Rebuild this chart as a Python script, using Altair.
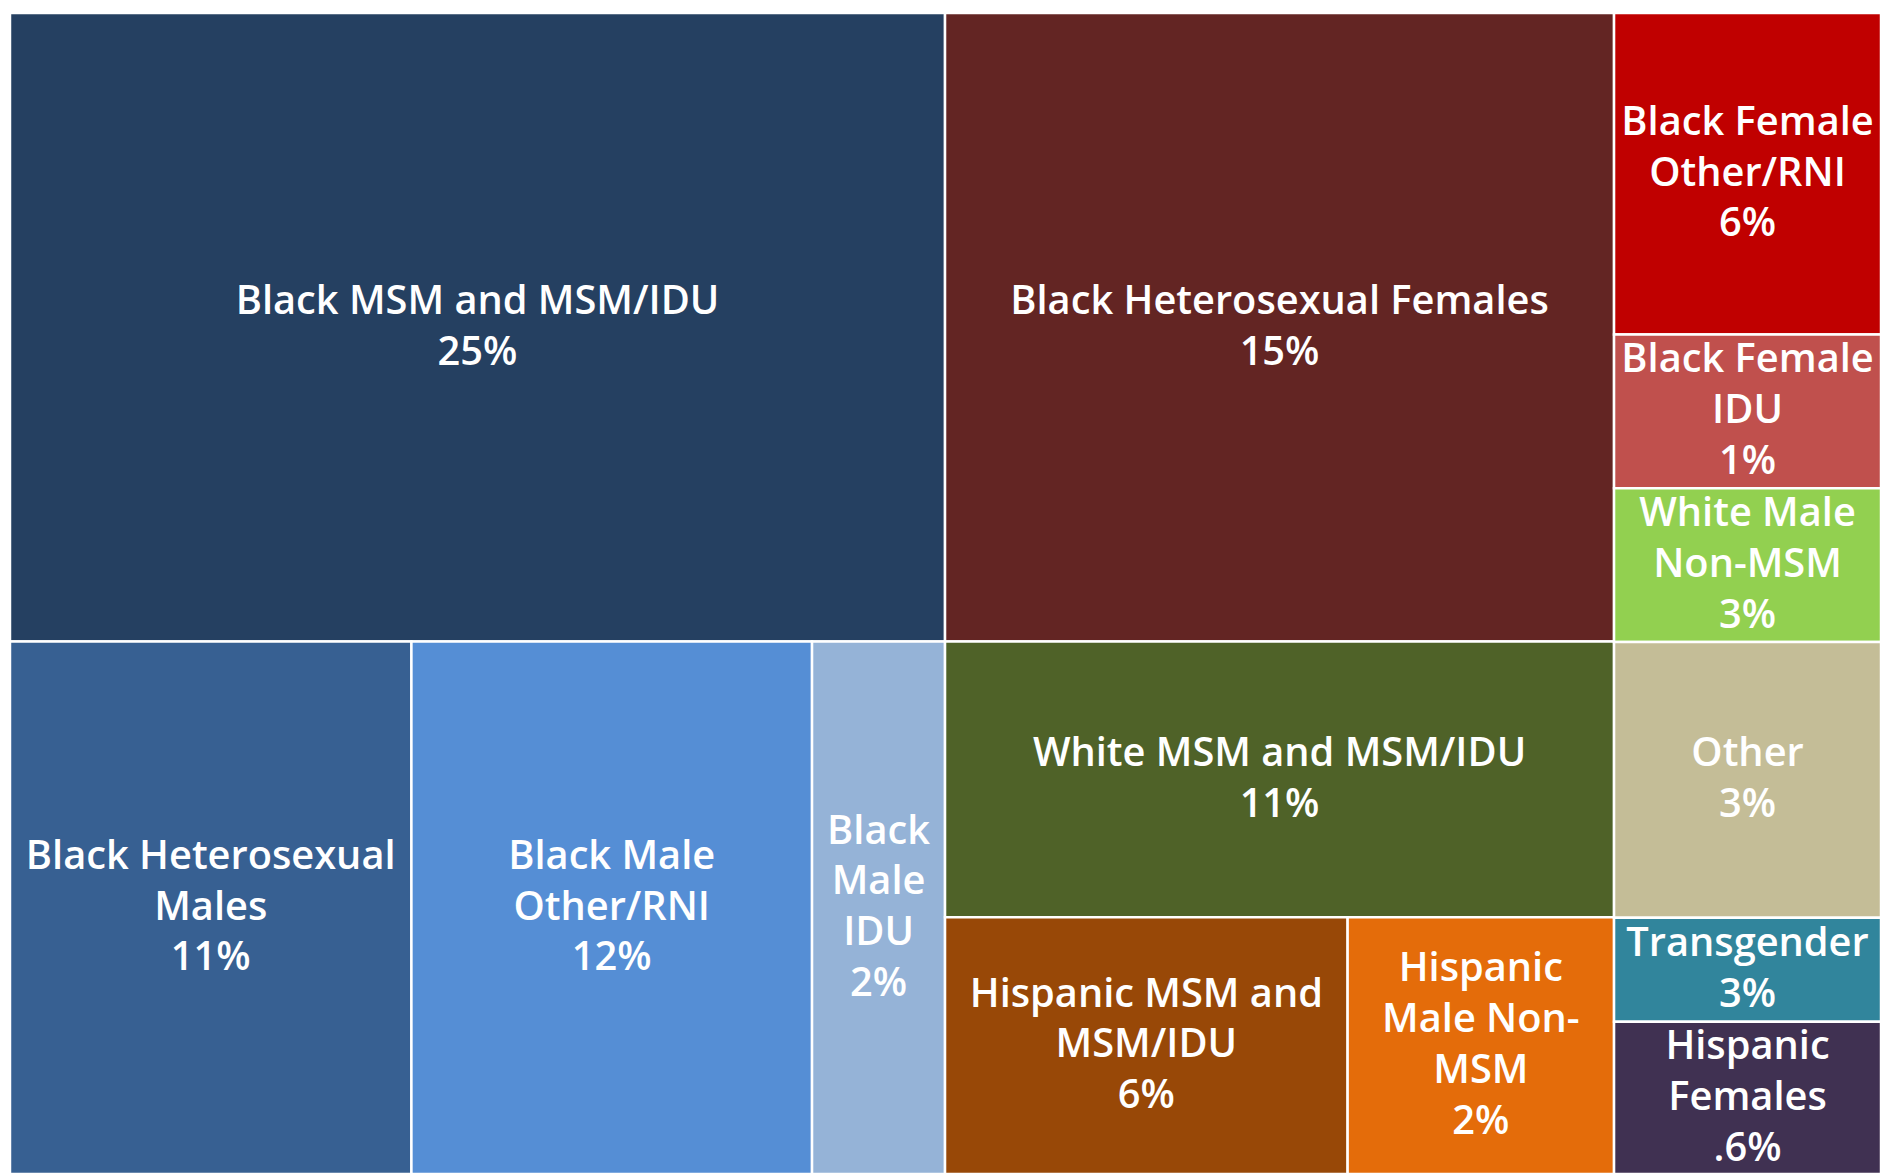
import altair as alt
import pandas as pd

# Cell names (order used by the layout tree below)
names = [
    "Black MSM and MSM/IDU",
    "Black Heterosexual Males",
    "Black Male Other/RNI",
    "Black Male IDU",
    "Black Heterosexual Females",
    "White MSM and MSM/IDU",
    "Hispanic MSM and MSM/IDU",
    "Hispanic Male Non-MSM",
    "Black Female Other/RNI",
    "Black Female IDU",
    "White Male Non-MSM",
    "Other",
    "Transgender",
    "Hispanic Females",
]

# Relative area of each tile
area_weights = [27.06, 9.84, 9.82, 3.26, 19.36, 8.49, 4.76, 3.15,
                3.95, 1.89, 1.89, 3.39, 1.28, 1.87]

# Displayed labels (one list of lines per tile)
labels = [
    ["Black MSM and MSM/IDU", "25%"],
    ["Black Heterosexual", "Males", "11%"],
    ["Black Male", "Other/RNI", "12%"],
    ["Black", "Male", "IDU", "2%"],
    ["Black Heterosexual Females", "15%"],
    ["White MSM and MSM/IDU", "11%"],
    ["Hispanic MSM and", "MSM/IDU", "6%"],
    ["Hispanic", "Male Non-", "MSM", "2%"],
    ["Black Female", "Other/RNI", "6%"],
    ["Black Female", "IDU", "1%"],
    ["White Male", "Non-MSM", "3%"],
    ["Other", "3%"],
    ["Transgender", "3%"],
    ["Hispanic", "Females", ".6%"],
]

colors = ["#254061", "#376092", "#558ED5", "#95B3D7", "#632523", "#4F6228",
          "#984807", "#E46C0A", "#C00000", "#C0504D", "#92D050", "#C4BD97",
          "#31859C", "#403152"]

# Treemap structure: "h" splits horizontally (side by side), "v" vertically (stacked)
layout_tree = ("h", [
    ("v", [0, ("h", [1, 2, 3])]),
    ("v", [4, 5, ("h", [6, 7])]),
    ("v", [8, 9, 10, 11, 12, 13]),
])

W, H = 1881, 1167
LINE_PX = 51


def total(node):
    if isinstance(node, int):
        return area_weights[node]
    return sum(total(c) for c in node[1])


def place(node, x0, x1, y0, y1, out):
    if isinstance(node, int):
        out[node] = (x0, x1, y0, y1)
        return
    direction, children = node
    s = total(node)
    pos = x0 if direction == "h" else y0
    for c in children:
        frac = total(c) / s
        if direction == "h":
            step = (x1 - x0) * frac
            place(c, pos, pos + step, y0, y1, out)
        else:
            step = (y1 - y0) * frac
            place(c, x0, x1, pos, pos + step, out)
        pos += step


boxes = {}
place(layout_tree, 0.0, 100.0, 0.0, 100.0, boxes)

rows = []
text_rows = []
lh = LINE_PX / H * 100.0
for i, n in enumerate(names):
    x0, x1, y0, y1 = boxes[i]
    rows.append({"name": n, "x0": x0, "x1": x1, "y0": y0, "y1": y1})
    cx, cy = (x0 + x1) / 2, (y0 + y1) / 2
    k = len(labels[i])
    for j, line in enumerate(labels[i]):
        text_rows.append({"name": n, "line": line, "cx": cx,
                          "cy": cy + (j - (k - 1) / 2) * lh})
df = pd.DataFrame(rows)
tdf = pd.DataFrame(text_rows)

xs = alt.Scale(domain=[0, 100], nice=False, zero=False)
ys = alt.Scale(domain=[0, 100], nice=False, zero=False, reverse=True)

rects = alt.Chart(df).mark_rect(stroke="white", strokeWidth=2.5).encode(
    x=alt.X("x0:Q", scale=xs, axis=None),
    x2="x1:Q",
    y=alt.Y("y0:Q", scale=ys, axis=None),
    y2="y1:Q",
    color=alt.Color("name:N", scale=alt.Scale(domain=names, range=colors), legend=None),
)

text = alt.Chart(tdf).mark_text(
    color="white", fontSize=40, font="Open Sans", fontWeight=600,
    align="center", baseline="middle",
).encode(
    x=alt.X("cx:Q", scale=xs, axis=None),
    y=alt.Y("cy:Q", scale=ys, axis=None),
    text="line:N",
)

chart = (rects + text).properties(width=W, height=H, padding=0).configure_view(
    stroke=None
)

chart.save("out.html", embed_options={"renderer": "svg", "actions": False})
